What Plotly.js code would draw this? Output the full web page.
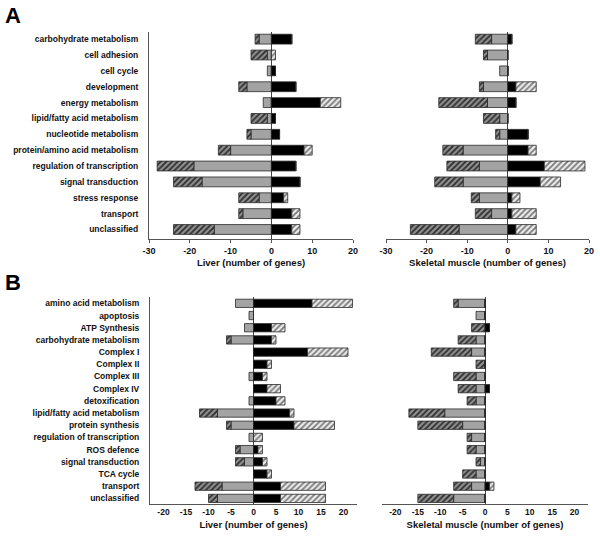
<!DOCTYPE html>
<html>
<head>
<meta charset="utf-8">
<script src="https://cdn.plot.ly/plotly-3.0.1.min.js"></script>
<style>html,body{margin:0;padding:0;background:#fff;}#chart{width:600px;height:539px;}</style>
</head>
<body>
<div id="chart"></div>
<script>
// ---- Panel A categories ----
const catsA = ["carbohydrate metabolism","cell adhesion","cell cycle","development","energy metabolism",
  "lipid/fatty acid metabolism","nucleotide metabolism","protein/amino acid metabolism",
  "regulation of transcription","signal transduction","stress response","transport","unclassified"];
// Panel A, Liver
const liverA_gray     = [3,1,1,6,2,1,5,10,19,17,3,7,14];
const liverA_hatchNeg = [1,4,0,2,0,4,1,3,9,7,5,1,10];
const liverA_black    = [5,0,1,6,12,1,2,8,6,7,3,5,5];
const liverA_hatchPos = [0,1,0,0,5,0,0,2,0,0,1,2,2];
// Panel A, Skeletal muscle
const muscleA_gray     = [4,5,2,6,5,2,2,11,7,11,7,4,12];
const muscleA_hatchNeg = [4,1,0,1,12,4,1,5,8,7,2,4,12];
const muscleA_black    = [1,0,0,2,2,0,5,5,9,8,1,1,2];
const muscleA_hatchPos = [0,0,0,5,0,0,0,2,10,5,2,6,5];

// ---- Panel B categories ----
const catsB = ["amino acid metabolism","apoptosis","ATP Synthesis","carbohydrate metabolism","Complex I",
  "Complex II","Complex III","Complex IV","detoxification","lipid/fatty acid metabolism","protein synthesis",
  "regulation of transcription","ROS defence","signal transduction","TCA cycle","transport","unclassified"];
// Panel B, Liver
const liverB_gray     = [4,1,2,5,0,0,1,0,1,8,5,1,3,2,0,7,8];
const liverB_hatchNeg = [0,0,0,1,0,0,0,0,0,4,1,0,1,2,0,6,2];
const liverB_black    = [13,0,4,4,12,3,2,3,5,8,9,0,1,2,3,6,6];
const liverB_hatchPos = [9,0,3,1,9,1,1,3,2,1,9,2,1,1,1,10,10];
// Panel B, Skeletal muscle
const muscleB_gray     = [6,2,0,2,3,0,2,2,2,9,5,3,2,1,2,3,7];
const muscleB_hatchNeg = [1,0,3,4,9,2,5,4,2,8,10,1,2,1,3,4,8];
const muscleB_black    = [0,0,1,0,0,0,0,1,0,0,0,0,0,0,0,1,0];
const muscleB_hatchPos = [0,0,0,0,0,0,0,0,0,0,0,0,0,0,0,1,0];

const FONT = "Liberation Sans, Arial, Helvetica, sans-serif";
const outline = {color:'#2a2a2a', width:0.8};

function makeTraces(cats, gray, hNeg, black, hPos, xa, ya, w) {
  const base = {type:'bar', orientation:'h', y:cats, xaxis:xa, yaxis:ya, width:w,
                hoverinfo:'skip', showlegend:false};
  return [
    Object.assign({}, base, {x: gray.map(v=>-v), marker:{color:'#a3a3a3', line:outline}}),
    Object.assign({}, base, {x: hNeg.map(v=>-v), marker:{color:'#8c8c8c', line:outline,
      pattern:{shape:'/', bgcolor:'#8f8f8f', fgcolor:'#2e2e2e', size:4, solidity:0.45}}}),
    Object.assign({}, base, {x: black, marker:{color:'#000000', line:outline}}),
    Object.assign({}, base, {x: hPos, marker:{color:'#e6e6e6', line:outline,
      pattern:{shape:'/', bgcolor:'#ebebeb', fgcolor:'#7a7a7a', size:4, solidity:0.45}}})
  ];
}

const data = [].concat(
  makeTraces(catsA, liverA_gray, liverA_hatchNeg, liverA_black, liverA_hatchPos, 'x', 'y', 0.62),
  makeTraces(catsA, muscleA_gray, muscleA_hatchNeg, muscleA_black, muscleA_hatchPos, 'x2', 'y2', 0.62),
  makeTraces(catsB, liverB_gray, liverB_hatchNeg, liverB_black, liverB_hatchPos, 'x3', 'y3', 0.68),
  makeTraces(catsB, muscleB_gray, muscleB_hatchNeg, muscleB_black, muscleB_hatchPos, 'x4', 'y4', 0.68)
);

const W = 600, H = 539;
const px = v => v / W;
const py = v => 1 - v / H;

function xAxis(dom, anchor, range, tickvals, title, ticklen, tsize, standoff) {
  return {domain:[px(dom[0]), px(dom[1])], anchor:anchor, range:range, tickvals:tickvals,
    ticktext: tickvals.map(String), showline:true, linecolor:'#555', linewidth:1,
    ticks: ticklen ? 'outside' : '', ticklen:ticklen, tickcolor:'#555',
    zeroline:true, zerolinecolor:'#444', zerolinewidth:1, showgrid:false, fixedrange:true,
    tickfont:{family:FONT, size:tsize, color:'#111', weight:'bold'},
    title:{text:title, font:{family:FONT, size:9.5, color:'#111', weight:'bold'}, standoff:standoff}};
}
function yAxis(dom, anchor, cats, range, labels) {
  return {domain:[py(dom[1]), py(dom[0])], anchor:anchor, type:'category', categoryorder:'array',
    categoryarray:cats, range:range, showline:labels, linecolor:'#555', linewidth:1,
    showticklabels:labels, ticks:'', showgrid:false, zeroline:false, fixedrange:true,
    ticklabelstandoff:8,
    tickfont:{family:FONT, size:8.5, color:'#111', weight:'bold'}};
}

const layout = {
  width:W, height:H, margin:{l:0,r:0,t:0,b:0}, paper_bgcolor:'#fff', plot_bgcolor:'rgba(0,0,0,0)',
  barmode:'relative', showlegend:false, font:{family:FONT},
  xaxis:  xAxis([149,353], 'y',  [-30,20], [-30,-20,-10,0,10,20], 'Liver (number of genes)', 3, 9, 4),
  xaxis2: xAxis([386,589], 'y2', [-30,20], [-30,-20,-10,0,10,20], 'Skeletal muscle (number of genes)', 3, 9, 4),
  xaxis3: xAxis([150,357], 'y3', [-23,23], [-20,-15,-10,-5,0,5,10,15,20], 'Liver (number of genes)', 0, 8.5, 5),
  xaxis4: xAxis([382,588], 'y4', [-23,23], [-20,-15,-10,-5,0,5,10,15,20], 'Skeletal muscle (number of genes)', 0, 8.5, 5),
  yaxis:  yAxis([32,239], 'x',  catsA, [12.6,-0.45], true),
  yaxis2: yAxis([32,239], 'x2', catsA, [12.6,-0.45], false),
  yaxis3: yAxis([297,504], 'x3', catsB, [16.46,-0.52], true),
  yaxis4: yAxis([297,504], 'x4', catsB, [16.46,-0.52], false),
  annotations:[
    {text:'A', xref:'paper', yref:'paper', x:px(12.5), y:py(15), xanchor:'center', yanchor:'middle',
     showarrow:false, font:{family:FONT, size:22, color:'#000', weight:'bold'}},
    {text:'B', xref:'paper', yref:'paper', x:px(12.5), y:py(282), xanchor:'center', yanchor:'middle',
     showarrow:false, font:{family:FONT, size:22, color:'#000', weight:'bold'}}
  ]
};

Plotly.newPlot('chart', data, layout, {staticPlot:true, displayModeBar:false});
</script>
</body>
</html>
